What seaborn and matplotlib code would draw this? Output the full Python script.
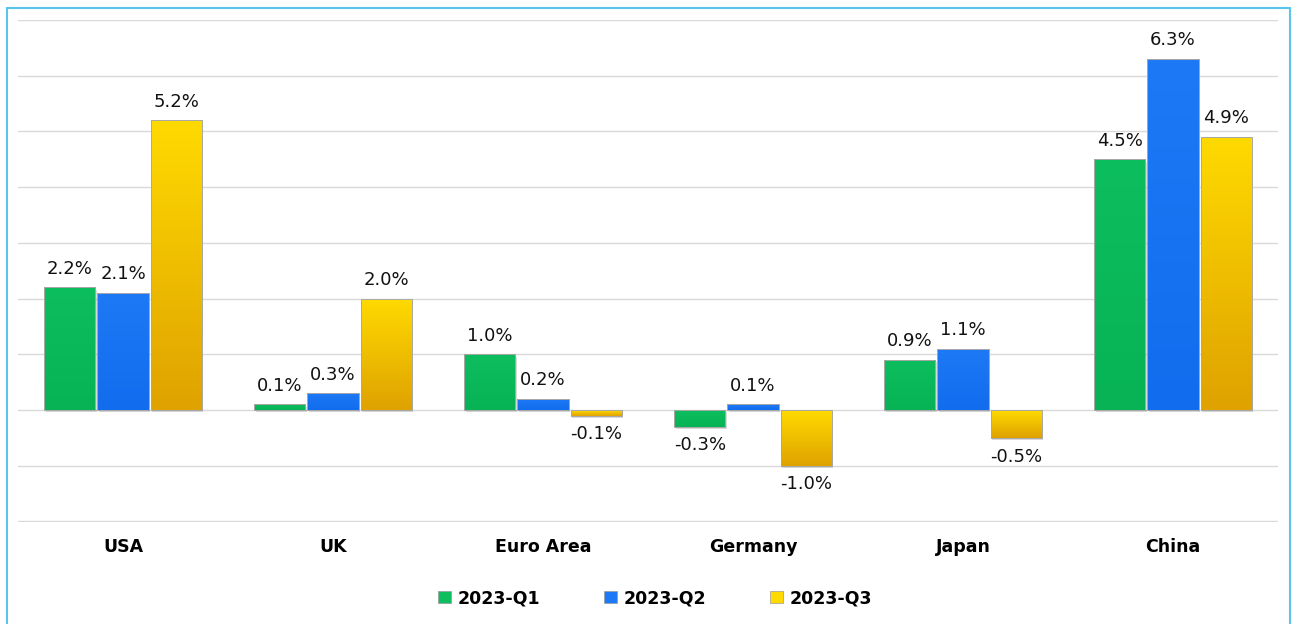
import numpy as np
import pandas as pd
import matplotlib.pyplot as plt
import matplotlib.patches as mpatches
from matplotlib.colors import LinearSegmentedColormap
import seaborn as sns

# Data
regions = ['USA', 'UK', 'Euro Area', 'Germany', 'Japan', 'China']
quarters = ['2023-Q1', '2023-Q2', '2023-Q3']
q1 = [2.2, 0.1, 1.0, -0.3, 0.9, 4.5]
q2 = [2.1, 0.3, 0.2, 0.1, 1.1, 6.3]
q3 = [5.2, 2.0, -0.1, -1.0, -0.5, 4.9]

df = pd.DataFrame({'Region': regions * 3,
                   'Quarter': np.repeat(quarters, len(regions)),
                   'Growth': q1 + q2 + q3})

# (top colour, bottom colour) for each series
grads = {'2023-Q1': ('#0DBE5E', '#07B355'),
         '2023-Q2': ('#1D79F5', '#126DEE'),
         '2023-Q3': ('#FFDA00', '#DFA200')}
palette = {k: v[0] for k, v in grads.items()}

sns.set_style('white')
plt.rcParams['font.family'] = ['DejaVu Sans']
plt.rcParams['text.color'] = '#000000'
plt.rcParams['xtick.color'] = '#000000'

fig = plt.figure(figsize=(12.92, 6.24), dpi=100)
ax = fig.add_axes([18 / 1292, 1 - 522 / 624, 1260 / 1292, 502 / 624])

sns.barplot(ax=ax, data=df, x='Region', y='Growth', hue='Quarter',
            hue_order=quarters, order=regions, palette=palette,
            width=0.76, gap=0.04, edgecolor='#B5B5B5', linewidth=0.6,
            legend=False)

ax.set_xlim(-0.5, 5.5)
ax.set_ylim(-2.01, 7)
ax.set_yticks(np.arange(-2, 8, 1))
ax.yaxis.grid(True, color='#D9D9D9', linewidth=1)
ax.set_axisbelow(True)
ax.tick_params(axis='y', left=False, labelleft=False)
ax.tick_params(axis='x', bottom=False, pad=8, labelcolor='#000000')
for lab in ax.get_xticklabels():
    lab.set_fontweight('bold')
    lab.set_fontsize(12.5)
ax.set_xlabel('')
ax.set_ylabel('')
for s in ax.spines.values():
    s.set_visible(False)

# Gradient fill + labels
for cont, q in zip(ax.containers, quarters):
    cmap = LinearSegmentedColormap.from_list(q, [grads[q][1], grads[q][0]])
    grad = np.linspace(0, 1, 100).reshape(-1, 1)
    for bar in cont:
        x0, y0 = bar.get_x(), bar.get_y()
        w, h = bar.get_width(), bar.get_height()
        ybot, ytop = min(y0, y0 + h), max(y0, y0 + h)
        # soft shadow
        ax.add_patch(mpatches.Rectangle((x0 + 0.006, ybot - 0.04), w, ytop - ybot,
                                        facecolor='#000000', alpha=0.15,
                                        edgecolor='none', zorder=1.5))
        im = ax.imshow(grad, extent=[x0, x0 + w, ybot, ytop], origin='lower',
                       cmap=cmap, aspect='auto', zorder=2.5)
        im.set_clip_path(bar)
        bar.set_zorder(2)
    ax.bar_label(cont, labels=[f'{v:.1f}%' for v in cont.datavalues],
                 padding=7, fontsize=13, color='#111111')
    for bar in cont:
        ax.add_patch(mpatches.Rectangle((bar.get_x(), bar.get_y()), bar.get_width(),
                                        bar.get_height(), facecolor='none',
                                        edgecolor='#A8A8A8', linewidth=0.7, zorder=3))

ax.set_xlim(-0.5, 5.5)
ax.set_ylim(-2.01, 7)

# Legend
handles = [mpatches.Patch(facecolor=grads[q][0], edgecolor='#9A9A9A', linewidth=0.5,
                          label=q) for q in quarters]
fig.legend(handles=handles, loc='center', bbox_to_anchor=(655 / 1292, 1 - 598 / 624),
           ncol=3, frameon=False, prop={'weight': 'bold', 'size': 12.5},
           handlelength=0.75, handleheight=0.75, handletextpad=0.35,
           columnspacing=3.7, labelcolor='#000000')

# Outer frame
fig.patches.append(mpatches.Rectangle((7 / 1292, -0.05), 1283 / 1292, 1.05 - 8 / 624,
                                      transform=fig.transFigure, fill=False,
                                      edgecolor='#5BC4EE', linewidth=1.5))

plt.savefig('out.png', dpi=100)
